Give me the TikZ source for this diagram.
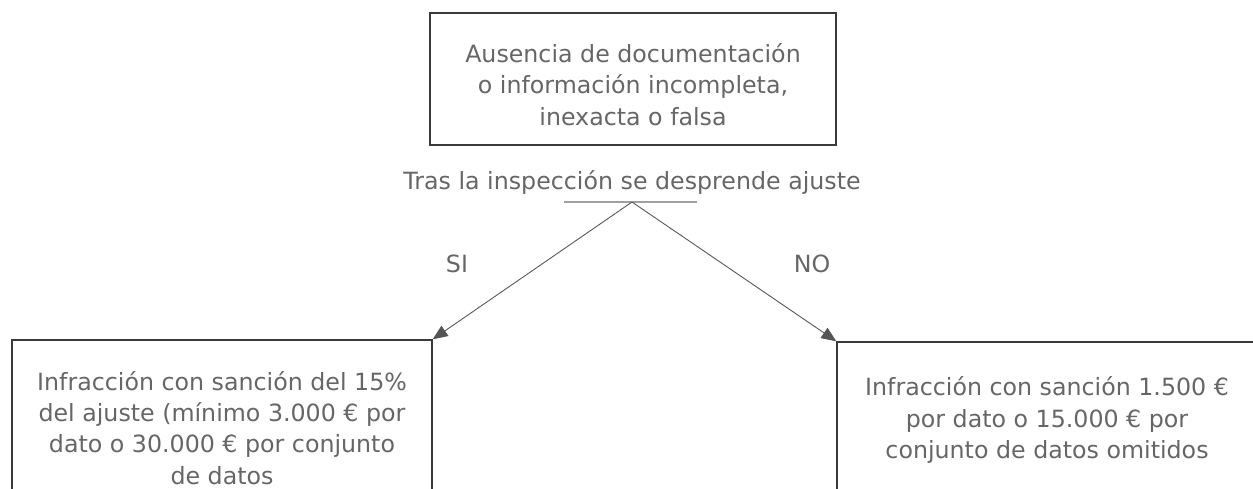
\documentclass[tikz,border=0pt]{standalone}
\usepackage{fontspec}
\setmainfont{DejaVu Sans}
\usetikzlibrary{arrows.meta}
\definecolor{txtgray}{HTML}{666666}
\definecolor{boxgray}{HTML}{3A3A3A}
\definecolor{linegray}{HTML}{555555}
\definecolor{rulegray}{HTML}{A0A0A0}

\begin{document}
\begin{tikzpicture}[x=0.02cm, y=-0.02cm,
    every node/.style={font=\fontsize{13.5}{17.8}\selectfont, text=txtgray},
    box/.style={draw=boxgray, line width=0.8pt, align=center, inner sep=0pt},
    arr/.style={draw=linegray, line width=0.5pt, -{Triangle[length=8.5pt, width=7pt]}}]
    \useasboundingbox (0,0) rectangle (1253,488);
    \clip (0,0) rectangle (1253,488);

    % boxes
    \node[box, minimum width=8.12cm, minimum height=2.64cm] (doc) at (633,79)
        {\rule{0pt}{17pt}Ausencia de documentación\\o información incompleta,\\inexacta o falsa};
    \node[box, minimum width=8.4cm, minimum height=3.52cm] (si) at (222,428)
        {Infracción con sanción del 15\%\\del ajuste (mínimo 3.000 € por\\dato o 30.000 € por conjunto\\de datos};
    \node[box, minimum width=8.4cm, minimum height=3.12cm] (no) at (1047,420)
        {Infracción con sanción 1.500 €\\por dato o 15.000 € por\\conjunto de datos omitidos};

    % question
    \node[anchor=base] (q) at (632,189) {Tras la inspección se desprende ajuste};
    \coordinate (ul-l) at (564,202);
    \coordinate (ul-r) at (697,202);
    \coordinate (split) at (632,202);
    \draw[rulegray, line width=1pt] (ul-l) -- (ul-r);

    % labels
    \node (lsi) at (457,264) {SI};
    \node (lno) at (812,264) {NO};

    \draw[arr] (split) -- (si.north east);
    \draw[arr] (split) -- (no.north west);
\end{tikzpicture}
\end{document}
